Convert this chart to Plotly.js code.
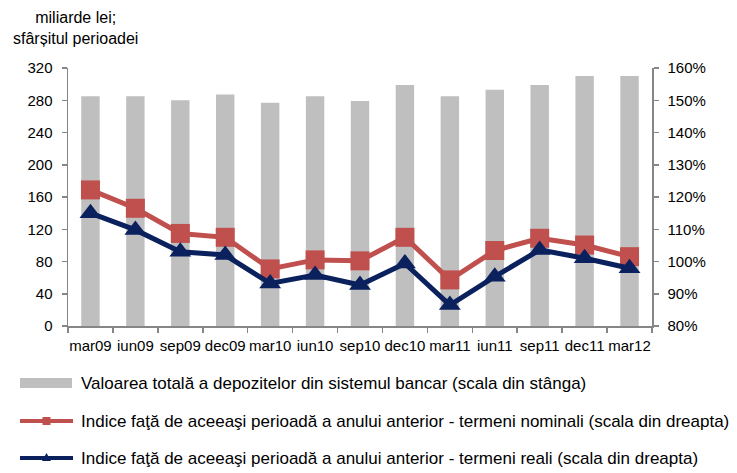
<!DOCTYPE html>
<html>
<head>
<meta charset="utf-8">
<script src="https://cdn.plot.ly/plotly-3.0.1.min.js"></script>
<style>html,body{margin:0;padding:0;background:#fff}#chart{width:737px;height:473px}</style>
</head>
<body>
<div id="chart"></div>
<script>
const categories = ["mar09","iun09","sep09","dec09","mar10","iun10","sep10","dec10","mar11","iun11","sep11","dec11","mar12"];
const depozite = [285, 285, 280, 287, 277, 285, 279, 299, 285, 293, 299, 310, 310];
const indiceNominal = [122.2, 116.5, 108.7, 107.5, 97.7, 100.5, 100.2, 107.5, 94.3, 103.4, 107.2, 105.1, 101.5];
const indiceReal = [115.0, 109.8, 103.0, 102.0, 93.2, 95.8, 92.7, 99.4, 86.5, 95.3, 103.6, 101.0, 97.9];
const leftTicks = [0, 40, 80, 120, 160, 200, 240, 280, 320];
const rightTicks = [80, 90, 100, 110, 120, 130, 140, 150, 160];
const rightTickLabels = ["80%", "90%", "100%", "110%", "120%", "130%", "140%", "150%", "160%"];
const legendLabels = [
  "Valoarea totală a depozitelor din sistemul bancar (scala din stânga)",
  "Indice faţă de aceeaşi perioadă a anului anterior - termeni nominali (scala din dreapta)",
  "Indice faţă de aceeaşi perioadă a anului anterior - termeni reali (scala din dreapta)"
];
const unitTitle = "miliarde lei;<br>sfârșitul perioadei";

const FONT = "Liberation Sans, Arial, sans-serif";
const GRAY = "#BFBFBF", RED = "#C0504D", NAVY = "#0A215E", AXIS = "#868686";

const traces = [
  {type: "bar", x: categories, y: depozite, marker: {color: GRAY}, yaxis: "y", name: legendLabels[0], hoverinfo: "none"},
  {type: "scatter", mode: "lines+markers", x: categories, y: indiceNominal, yaxis: "y2", name: legendLabels[1],
   line: {color: RED, width: 5}, marker: {symbol: "square", size: 19, color: RED}},
  {type: "scatter", mode: "lines+markers", x: categories, y: indiceReal, yaxis: "y2", name: legendLabels[2],
   line: {color: NAVY, width: 5}, marker: {symbol: "triangle-up", size: 19, color: NAVY}}
];

const legendY = [383, 421, 458];
const H = 473, W = 737;
const margin = {l: 68, r: 85, t: 68, b: 147};
const pw = W - margin.l - margin.r, ph = H - margin.t - margin.b;
function px(x) { return (x - margin.l) / pw; }
function py(y) { return (H - margin.b - y) / ph; }
const shapes = [];
shapes.push({type: "rect", xref: "paper", yref: "paper", x0: px(20), x1: px(72), y0: py(388), y1: py(378), fillcolor: GRAY, line: {width: 0}});
shapes.push({type: "line", xref: "paper", yref: "paper", x0: px(20), x1: px(73), y0: py(legendY[1]), y1: py(legendY[1]), line: {color: RED, width: 4}});
shapes.push({type: "rect", xref: "paper", yref: "paper", x0: px(42.5), x1: px(50.5), y0: py(legendY[1] + 4), y1: py(legendY[1] - 4), fillcolor: RED, line: {width: 0}});
shapes.push({type: "line", xref: "paper", yref: "paper", x0: px(20), x1: px(73), y0: py(legendY[2]), y1: py(legendY[2]), line: {color: NAVY, width: 4}});
shapes.push({type: "path", xref: "paper", yref: "paper",
  path: `M ${px(42)} ${py(legendY[2] + 3)} L ${px(51)} ${py(legendY[2] + 3)} L ${px(46.5)} ${py(legendY[2] - 5)} Z`,
  fillcolor: NAVY, line: {width: 0}});

const annotations = [
  {xref: "paper", yref: "paper", x: px(75), y: py(28), text: unitTitle, showarrow: false, xanchor: "center", yanchor: "middle",
   align: "center", font: {family: FONT, size: 16, color: "#000"}}
];
legendLabels.forEach((t, i) => annotations.push({
  xref: "paper", yref: "paper", x: px(79), y: py(legendY[i]), text: t, showarrow: false,
  xanchor: "left", yanchor: "middle", font: {family: FONT, size: 17, color: "#000"}
}));

const layout = {
  width: W, height: H, margin: margin,
  paper_bgcolor: "#fff", plot_bgcolor: "#fff",
  showlegend: false, bargap: 0.59,
  font: {family: FONT, size: 15, color: "#000"},
  xaxis: {type: "category", showgrid: false, showline: true, linecolor: AXIS, linewidth: 1.5,
    ticks: "outside", tickson: "boundaries", ticklen: 5, tickcolor: AXIS, tickwidth: 1.5, tickangle: 0,
    tickfont: {family: FONT, size: 15}, ticklabelstandoff: 5, range: [-0.5, 12.5], fixedrange: true},
  yaxis: {range: [0, 320], tickvals: leftTicks, showgrid: false, zeroline: false, showline: true, linecolor: AXIS, linewidth: 1.5,
    ticks: "outside", ticklen: 5, tickcolor: AXIS, tickwidth: 1.5, tickfont: {family: FONT, size: 15}, ticklabelstandoff: 6},
  yaxis2: {range: [80, 160], tickmode: "array", tickvals: rightTicks, ticktext: rightTickLabels, overlaying: "y", side: "right",
    showgrid: false, zeroline: false, showline: true, linecolor: AXIS, linewidth: 1.5, ticks: "outside", ticklen: 5,
    tickcolor: AXIS, tickwidth: 1.5, tickfont: {family: FONT, size: 15}, ticklabelstandoff: 6},
  shapes: shapes, annotations: annotations
};

Plotly.newPlot("chart", traces, layout, {staticPlot: true, displayModeBar: false});
</script>
</body>
</html>
